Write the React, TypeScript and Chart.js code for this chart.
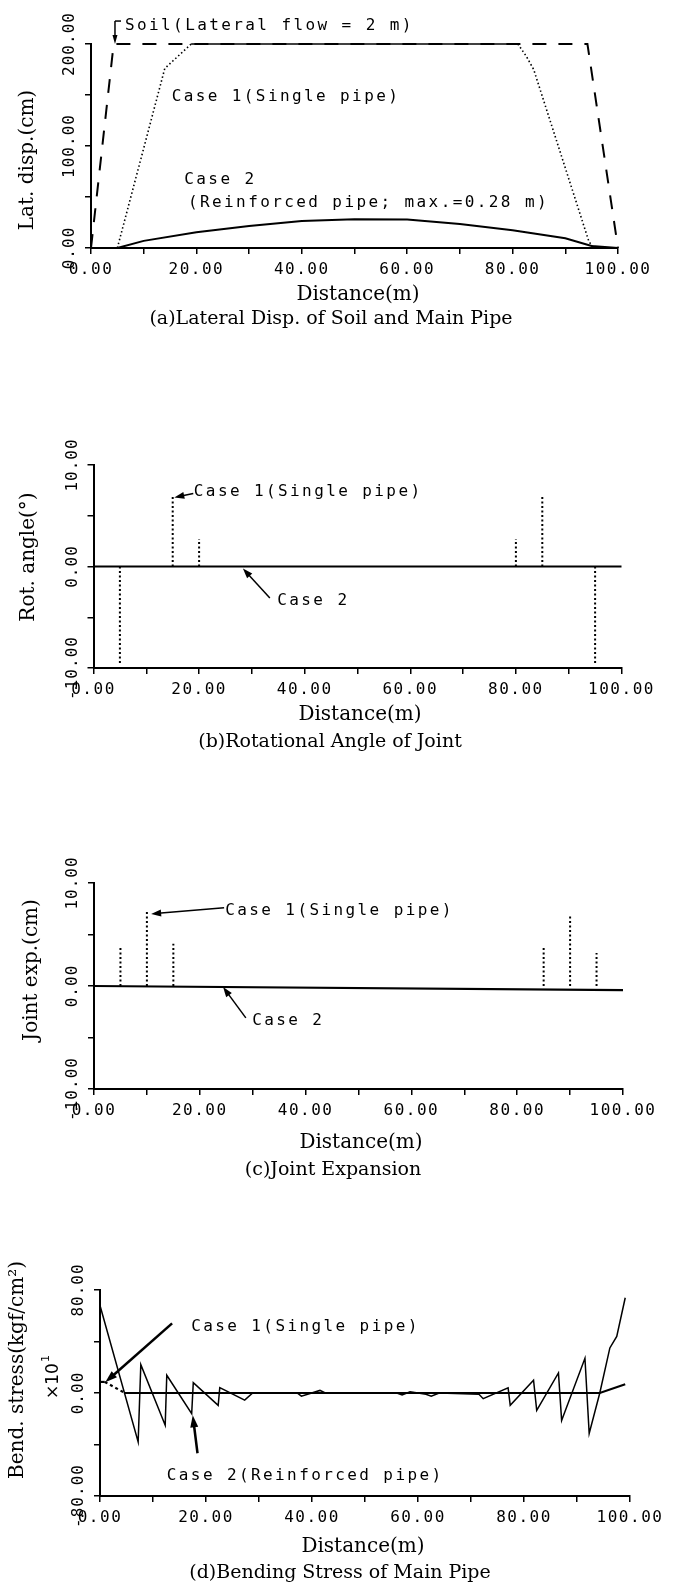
import React, { useEffect, useRef } from 'react';
import { Chart, registerables } from 'chart.js';

Chart.register(...registerables);

// ---------------- DATA ----------------
const distanceTicks = [0, 20, 40, 60, 80, 100];
const distanceTickLabels = ['0.00', '20.00', '40.00', '60.00', '80.00', '100.00'];

// (a) Lateral displacement (cm)
const soilX = [0, 4.3, 94.2, 100];
const soilDisp = [0, 200, 200, 0];
const singlePipeX = [5, 14, 16.3, 19, 81, 82.6, 84, 94.5, 95.5];
const singlePipeDisp = [0, 176, 187, 200, 200, 188, 175, 6, 0];
const reinforcedX = [0, 5, 10, 20, 30, 40, 50, 60, 70, 80, 90, 95, 100];
const reinforcedDisp = [0, 0, 7, 15.5, 21.5, 26.5, 28.3, 28, 23.5, 17.5, 9.5, 2, 0];
const dispTicks = [0, 100, 200];
const dispTickLabels = ['0.00', '100.00', '200.00'];

// (b) Rotational angle of joint (deg)
const rotJointX = [5, 15, 20, 80, 85, 95];
const rotSingle = [-9.7, 6.9, 2.7, 2.7, 7.0, -9.7];
const rotReinfX = [0, 100];
const rotReinf = [0, 0];
const angleTicks = [-10, 0, 10];
const angleTickLabels = ['-10.00', '0.00', '10.00'];

// (c) Joint expansion (cm)
const expJointX = [5, 10, 15, 85, 90, 95];
const expSingle = [3.7, 7.2, 4.1, 3.7, 6.8, 3.2];
const expReinfX = [0, 100];
const expReinf = [0, -0.4];
const expTicks = [-10, 0, 10];
const expTickLabels = ['-10.00', '0.00', '10.00'];

// (d) Bending stress (x10 kgf/cm2)
const stressFlatX = [0, 0.9, 4.7, 94.3, 99.1];
const stressFlat = [8.6, 8.6, 0, 0, 6.8];
const stressSawX = [0, 7.2, 7.7, 12.3, 12.6, 17.3, 17.6, 22.3, 22.6, 27.3, 28.8, 37.2, 38, 41.5, 42.5, 56, 57, 58.5, 61.5, 62.5, 64, 71.5, 72.3, 77, 77.4, 81.8, 82.4, 86.5, 87.1, 91.5, 92.3, 94.3, 96.2, 97.5, 99.1];
const stressSaw = [68, -38, 22, -25, 13.8, -16, 8, -9.6, 4.2, -5.5, 0, 0, -2.5, 2, 0, 0, -1.5, 1, -1, -2.5, 0, -1, -4.4, 4, -9.6, 10, -13.5, 15.6, -21.3, 27, -31.5, 0, 35, 44, 74];
const stressTicks = [-80, 0, 80];
const stressTickLabels = ['-80.00', '0.00', '80.00'];

// ---------------- HELPERS ----------------
const W = 673;
const MONO = '"DejaVu Sans Mono", monospace';
const SERIF = '"DejaVu Serif", serif';
const SANS = '"DejaVu Sans", sans-serif';

const zip = (xs: number[], ys: number[]) => xs.map((x, i) => ({ x, y: ys[i] }));
const spikes = (xs: number[], ys: number[]) =>
  xs.flatMap((x, i) => [{ x, y: 0 }, { x, y: ys[i] }, { x, y: null as any }]);

const setLS = (ctx: any, v: string) => {
  try { ctx.letterSpacing = v; } catch (e) { /* ignore */ }
};

function rotText(ctx: CanvasRenderingContext2D, text: string, x: number, y: number) {
  ctx.save();
  ctx.translate(x, y);
  ctx.rotate(-Math.PI / 2);
  ctx.textAlign = 'center';
  ctx.textBaseline = 'middle';
  ctx.fillText(text, 0, 0);
  ctx.restore();
}

function arrow(ctx: CanvasRenderingContext2D, x1: number, y1: number, x2: number, y2: number, lw: number, head = 10, hw = 3.5) {
  const a = Math.atan2(y2 - y1, x2 - x1);
  const c = Math.cos(a), s = Math.sin(a);
  ctx.lineWidth = lw;
  ctx.beginPath();
  ctx.moveTo(x1, y1);
  ctx.lineTo(x2 - c * head * 0.7, y2 - s * head * 0.7);
  ctx.stroke();
  ctx.beginPath();
  ctx.moveTo(x2, y2);
  ctx.lineTo(x2 - head * c + hw * s, y2 - head * s - hw * c);
  ctx.lineTo(x2 - head * c - hw * s, y2 - head * s + hw * c);
  ctx.closePath();
  ctx.fill();
}

interface Spec {
  key: string;
  top: number;
  height: number;
  area: { left: number; right: number; top: number; bottom: number };
  yMin: number; yMax: number; yStep: number;
  yTicks: number[]; yTickLabels: string[];
  datasets: any[];
  yTitle: { text: string; x: number; y: number };
  xTitle: { x: number; y: number };
  caption: { text: string; x: number; y: number };
  texts: { t: string; x: number; y: number }[];
  arrows: { from: [number, number]; to: [number, number]; lw: number; head?: number; hw?: number }[];
  lines?: [number, number][][];
  multiplier?: { x: number; y: number };
}

const black = '#000';

const panels: Spec[] = [
  {
    key: 'a', top: 0, height: 340,
    area: { left: 91, right: 618, top: 44, bottom: 248 },
    yMin: 0, yMax: 200, yStep: 50, yTicks: dispTicks, yTickLabels: dispTickLabels,
    datasets: [
      { data: zip(soilX, soilDisp), borderColor: black, borderWidth: 2, borderDash: [14, 12] },
      {
        data: zip(singlePipeX, singlePipeDisp), borderColor: black, borderWidth: 1.6, borderDash: [1.5, 2.5],
        segment: { borderDash: (c: any) => (c.p0.parsed.y >= 199 && c.p1.parsed.y >= 199 ? [] : undefined) },
      },
      { data: zip(reinforcedX, reinforcedDisp), borderColor: black, borderWidth: 2 },
    ],
    yTitle: { text: 'Lat. disp.(cm)', x: 28, y: 160 },
    xTitle: { x: 358, y: 295 },
    caption: { text: '(a)Lateral Disp. of Soil and Main Pipe', x: 331, y: 319 },
    texts: [
      { t: 'Soil(Lateral flow = 2 m)', x: 6.45, y: 217.5 },
      { t: 'Case 1(Single pipe)', x: 15.3, y: 148 },
      { t: 'Case 2', x: 17.7, y: 66.5 },
      { t: '(Reinforced pipe; max.=0.28 m)', x: 18.4, y: 44 },
    ],
    arrows: [{ from: [4.55, 222.5], to: [4.55, 200], lw: 1.5, head: 9, hw: 2.5 }],
    lines: [[[4.55, 222.5], [5.7, 222.5]]],
  },
  {
    key: 'b', top: 340, height: 420,
    area: { left: 93.5, right: 621.5, top: 465, bottom: 668 },
    yMin: -10, yMax: 10, yStep: 5, yTicks: angleTicks, yTickLabels: angleTickLabels,
    datasets: [
      { data: spikes(rotJointX, rotSingle), borderColor: black, borderWidth: 2, borderDash: [2, 2.5], spanGaps: false },
      { data: zip(rotReinfX, rotReinf), borderColor: black, borderWidth: 2.2 },
    ],
    yTitle: { text: 'Rot. angle(°)', x: 29, y: 557 },
    xTitle: { x: 360, y: 715 },
    caption: { text: '(b)Rotational Angle of Joint', x: 330, y: 742 },
    texts: [
      { t: 'Case 1(Single pipe)', x: 19.0, y: 7.4 },
      { t: 'Case 2', x: 34.8, y: -3.35 },
    ],
    arrows: [
      { from: [18.9, 7.2], to: [15.3, 6.8], lw: 1.5 },
      { from: [33.4, -3.1], to: [28.3, -0.2], lw: 1.5 },
    ],
  },
  {
    key: 'c', top: 760, height: 425,
    area: { left: 94, right: 623, top: 883, bottom: 1089 },
    yMin: -10, yMax: 10, yStep: 5, yTicks: expTicks, yTickLabels: expTickLabels,
    datasets: [
      { data: spikes(expJointX, expSingle), borderColor: black, borderWidth: 2, borderDash: [2, 2.5], spanGaps: false },
      { data: zip(expReinfX, expReinf), borderColor: black, borderWidth: 2.2 },
    ],
    yTitle: { text: 'Joint exp.(cm)', x: 32, y: 970 },
    xTitle: { x: 361, y: 1143 },
    caption: { text: '(c)Joint Expansion', x: 333, y: 1170 },
    texts: [
      { t: 'Case 1(Single pipe)', x: 24.8, y: 7.3 },
      { t: 'Case 2', x: 29.9, y: -3.4 },
    ],
    arrows: [
      { from: [24.6, 7.6], to: [10.8, 7.0], lw: 1.5 },
      { from: [28.7, -3.1], to: [24.4, -0.1], lw: 1.5 },
    ],
  },
  {
    key: 'd', top: 1185, height: 404,
    area: { left: 100, right: 630, top: 1290, bottom: 1496 },
    yMin: -80, yMax: 80, yStep: 40, yTicks: stressTicks, yTickLabels: stressTickLabels,
    datasets: [
      { data: zip(stressSawX, stressSaw), borderColor: black, borderWidth: 1.5 },
      {
        data: zip(stressFlatX, stressFlat), borderColor: black, borderWidth: 2.2,
        segment: { borderDash: (c: any) => (c.p0DataIndex === 1 ? [3, 3] : undefined) },
      },
    ],
    yTitle: { text: 'Bend. stress(kgf/cm²)', x: 18, y: 1370 },
    xTitle: { x: 363, y: 1547 },
    caption: { text: '(d)Bending Stress of Main Pipe', x: 340, y: 1573 },
    texts: [
      { t: 'Case 1(Single pipe)', x: 17.2, y: 51 },
      { t: 'Case 2(Reinforced pipe)', x: 12.6, y: -64 },
    ],
    arrows: [
      { from: [13.6, 54.1], to: [1.0, 8.3], lw: 2.5, head: 12, hw: 4 },
      { from: [18.4, -46.8], to: [17.5, -17.3], lw: 2.5, head: 12, hw: 4 },
    ],
    multiplier: { x: 54, y: 1381 },
  },
];

function makeDecor(spec: Spec) {
  return {
    id: 'decor_' + spec.key,
    afterDraw(chart: any) {
      const ctx: CanvasRenderingContext2D = chart.ctx;
      const xs = chart.scales.x;
      const ys = chart.scales.y;
      const ca = chart.chartArea;
      const T = spec.top;
      const px = (v: number) => xs.getPixelForValue(v);
      const py = (v: number) => ys.getPixelForValue(v);
      ctx.save();
      ctx.fillStyle = black;
      ctx.strokeStyle = black;

      // x tick labels
      ctx.font = `16px ${MONO}`;
      setLS(ctx, '1.5px');
      ctx.textAlign = 'center';
      ctx.textBaseline = 'middle';
      distanceTicks.forEach((v, i) => ctx.fillText(distanceTickLabels[i], px(v), ca.bottom + 22));

      // y tick labels (rotated)
      setLS(ctx, '1px');
      spec.yTicks.forEach((v, i) => rotText(ctx, spec.yTickLabels[i], ca.left - 21, py(v)));

      // titles
      setLS(ctx, '0px');
      ctx.font = `20px ${SERIF}`;
      rotText(ctx, spec.yTitle.text, spec.yTitle.x, spec.yTitle.y - T);
      ctx.textAlign = 'center';
      ctx.textBaseline = 'middle';
      ctx.fillText('Distance(m)', spec.xTitle.x, spec.xTitle.y - T);
      ctx.font = `19px ${SERIF}`;
      ctx.fillText(spec.caption.text, spec.caption.x, spec.caption.y - T);

      // multiplier label
      if (spec.multiplier) {
        ctx.save();
        ctx.translate(spec.multiplier.x, spec.multiplier.y - T);
        ctx.rotate(-Math.PI / 2);
        ctx.font = `17px ${SANS}`;
        ctx.textAlign = 'center';
        ctx.textBaseline = 'middle';
        const main = '×10';
        const w = ctx.measureText(main).width;
        ctx.fillText(main, 0, 0);
        ctx.font = `11px ${SANS}`;
        ctx.textAlign = 'left';
        ctx.fillText('1', w / 2 + 1, -8);
        ctx.restore();
      }

      // annotation texts
      ctx.font = `16px ${MONO}`;
      setLS(ctx, '2.4px');
      ctx.textAlign = 'left';
      ctx.textBaseline = 'middle';
      spec.texts.forEach((t) => ctx.fillText(t.t, px(t.x), py(t.y)));
      setLS(ctx, '0px');

      // arrows & lines
      ctx.lineCap = 'butt';
      spec.arrows.forEach((a) =>
        arrow(ctx, px(a.from[0]), py(a.from[1]), px(a.to[0]), py(a.to[1]), a.lw, a.head ?? 10, a.hw ?? 3.5)
      );
      (spec.lines || []).forEach((ln) => {
        ctx.lineWidth = 1.5;
        ctx.beginPath();
        ln.forEach((p, i) => (i === 0 ? ctx.moveTo(px(p[0]), py(p[1])) : ctx.lineTo(px(p[0]), py(p[1]))));
        ctx.stroke();
      });
      ctx.restore();
    },
  };
}

function buildConfig(spec: Spec): any {
  const axisCommon = {
    type: 'linear',
    grid: { display: true, drawOnChartArea: false, drawTicks: true, tickLength: 6, color: black, lineWidth: 1.5 },
    border: { display: true, color: black, width: 2 },
  };
  return {
    type: 'line',
    data: {
      datasets: spec.datasets.map((d) => ({
        pointRadius: 0,
        pointHoverRadius: 0,
        fill: false,
        tension: 0,
        clip: false,
        borderCapStyle: 'butt',
        ...d,
      })),
    },
    options: {
      animation: false,
      responsive: false,
      maintainAspectRatio: false,
      events: [],
      layout: {
        autoPadding: false,
        padding: {
          left: spec.area.left,
          right: W - spec.area.right,
          top: spec.area.top - spec.top,
          bottom: spec.top + spec.height - spec.area.bottom,
        },
      },
      plugins: { legend: { display: false }, tooltip: { enabled: false }, title: { display: false } },
      scales: {
        x: {
          ...axisCommon,
          position: 'bottom',
          min: 0, max: 100,
          ticks: { display: false, stepSize: 10 },
          afterFit: (s: any) => { s.height = 0; },
        },
        y: {
          ...axisCommon,
          position: 'left',
          min: spec.yMin, max: spec.yMax,
          ticks: { display: false, stepSize: spec.yStep },
          afterFit: (s: any) => { s.width = 0; },
        },
      },
    },
    plugins: [makeDecor(spec)],
  };
}

function Panel({ spec }: { spec: Spec }) {
  const ref = useRef<HTMLCanvasElement | null>(null);
  useEffect(() => {
    if (!ref.current) return;
    const chart = new Chart(ref.current, buildConfig(spec));
    return () => chart.destroy();
  }, [spec]);
  return (
    <canvas
      ref={ref}
      width={W}
      height={spec.height}
      style={{ position: 'absolute', left: 0, top: spec.top, width: W, height: spec.height, display: 'block' }}
    />
  );
}

export default function App() {
  return (
    <div style={{ position: 'absolute', left: 0, top: 0, width: W, height: 1589, background: '#fff' }}>
      {panels.map((p) => (
        <Panel key={p.key} spec={p} />
      ))}
    </div>
  );
}
